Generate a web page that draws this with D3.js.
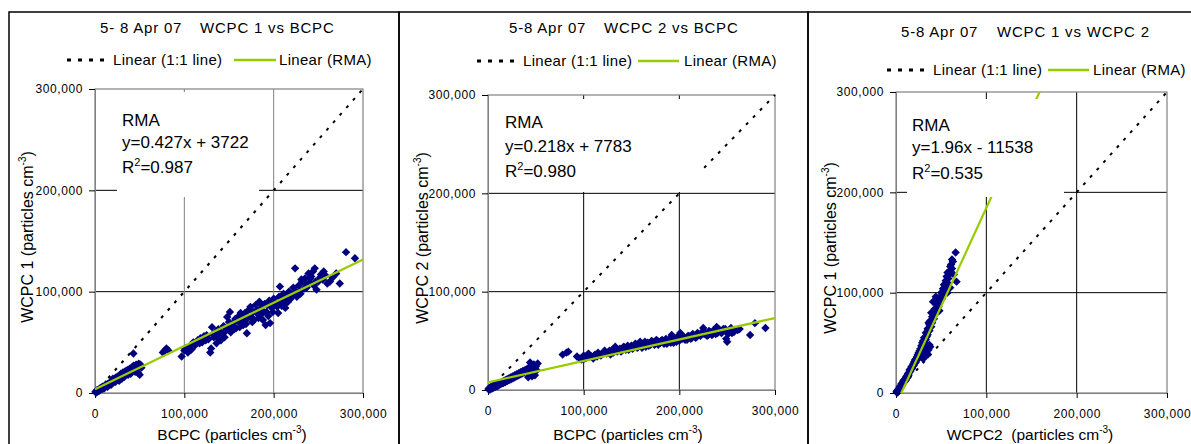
<!DOCTYPE html>
<meta charset="utf-8">
<script src="https://cdn.jsdelivr.net/npm/d3@7"></script>
<style>
  body { margin: 0; background: #fff; }
  svg { display: block; font-family: Arial, "Liberation Sans", sans-serif; }
</style>
<body>
<script>
// all values in thousands of particles cm-3
var ticks = [0, 100, 200, 300];

var wcpc1VsBcpc = [
  [0.5,1],[1,1.5],[1.5,0.5],[2,1],[2,2.5],[3,2],[3,3],[4,3],[4,2],[5,2.5],[5,4],[6,3.5],[6,5],[7,4.5],[8,4],[8,6],[9,5],
  [10,6],[10,4.5],[11,5.5],[12,7],[12,8.5],[13,7],[14,9],[14,6],[15,8],[16,10],[17,9],[18,11],[18,8],[19,10],[20,12],
  [20,14],[21,11],[22,13],[23,15],[23,11],[24,13],[25,16],[26,14],[27,17],[27,12],[28,15],[29,19],[30,17],[30,14],
  [31,20],[32,18],[33,21],[33,16],[34,19],[35,22],[36,20],[37,23],[37,18],[38,21],[39,24],[40,22],[40,19],[41,25],
  [42,23],[43,27],[43,39],[44,24],[45,26],[45,21],[46,28],[47,25],[48,27],[48,20],[49,29],[50,26],[50,18],[51,28],[52,25],
  [76,40],[78,42],[80,44],[82,42],[97,36],[100,42],[101,44],[104,40],[106,46],[108,43],[110,50],[112,47],[115,52],
  [117,49],[118,54],[120,50],[122,56],[124,52],[125,57],[127,53],[129,40],[130,44],[131,65],[132,58],[133,55],[135,60],
  [136,49],[137,55],[138,63],[140,58],[141,52],[142,59],[144,66],[145,55],[146,61],[147,62],[148,75],[149,64],[150,70],
  [151,80],[152,60],[153,67],[155,69],[156,63],[157,73],[158,64],[160,75],[161,70],[162,65],[163,79],[165,72],[166,67],
  [167,77],[168,79],[169,68],[170,59],[171,74],[172,82],[174,85],[175,75],[176,70],[177,80],[178,72],[180,87],[181,82],
  [182,78],[183,74],[184,90],[185,83],[186,78],[187,86],[188,72],[189,80],[190,88],[191,67],[192,80],[193,87],[194,76],
  [195,91],[196,69],[197,86],[198,84],[199,80],[200,93],[201,89],[202,88],[204,85],[205,79],[206,95],[207,105],[208,90],
  [209,86],[210,92],[211,98],[212,87],[213,84],[214,96],[215,94],[216,90],[217,100],[218,99],[219,93],[220,96],[222,104],
  [223,98],[224,123],[225,100],[226,95],[228,106],[229,101],[230,98],[231,112],[232,110],[234,103],[235,113],[236,108],
  [237,104],[239,118],[240,109],[241,113],[242,115],[244,120],[245,106],[246,123],[247,110],[248,102],[250,110],
  [252,114],[253,117],[255,112],[256,120],[258,116],[260,108],[263,110],[266,114],[270,118],[274,108],[281,139],[291,133]
];

var wcpc2VsBcpc = [
  [0.5,1],[1,0.5],[1.5,2],[2,2],[2,0.5],[3,1.5],[3,3],[4,3],[4,1.5],[5,2],[5,4],[6,4],[6,2.5],[7,3],[7,5],[8,5],[8,3.5],
  [9,4],[9,6],[10,6],[10,4],[11,5],[12,7],[12,5.5],[13,6],[14,8],[14,6.5],[15,7],[16,9],[16,7],[17,8],[18,10],[18,8],
  [19,9],[20,11],[20,9],[21,10],[22,12],[22,10],[23,11],[24,13],[24,11],[25,12],[26,14],[26,12],[27,13],[28,15],[28,13],
  [29,14],[30,16],[30,14],[31,15],[32,17],[32,15],[33,16],[34,18],[34,16],[35,17],[36,19],[36,17],[37,18],[38,20],
  [38,18],[39,19],[40,21],[40,19],[41,20],[42,22],[42,13],[43,23],[44,28],[44,20],[45,21],[46,24],[46,14],[47,22],
  [48,26],[49,15],[50,24],[51,20],[52,27],
  [78,36],[82,38],[84,39],[93,34],[96,32],[98,31],[100,35],[101,32],[103,33],[105,37],[106,34],[108,34],[110,32],
  [111,35],[112,36],[114,34],[115,38],[117,36],[118,35],[120,37],[121,39],[122,40],[124,37],[125,38],[127,40],[128,36],
  [130,41],[131,38],[133,44],[134,40],[135,39],[137,41],[138,42],[139,39],[140,40],[141,43],[142,44],[144,41],[145,43],
  [146,45],[147,41],[149,44],[150,45],[151,42],[152,43],[154,47],[155,46],[156,43],[157,44],[158,47],[159,49],[160,45],
  [161,43],[162,47],[164,49],[165,44],[166,46],[167,48],[168,45],[170,46],[171,50],[172,49],[174,46],[175,47],[176,51],
  [177,50],[178,46],[180,48],[181,50],[182,51],[184,47],[185,49],[186,52],[187,47],[189,50],[190,52],[191,48],[192,56],
  [193,50],[194,48],[195,53],[196,51],[197,49],[198,53],[199,55],[200,50],[201,58],[202,54],[203,52],[205,54],[206,51],
  [208,51],[209,55],[210,55],[212,52],[213,53],[214,57],[215,56],[217,53],[218,54],[219,58],[220,57],[222,55],[224,59],
  [225,63],[226,57],[227,58],[229,55],[230,56],[231,60],[232,59],[234,56],[235,57],[236,61],[237,60],[238,57],[239,64],
  [240,58],[241,62],[242,61],[244,58],[245,59],[246,62],[248,62],[249,52],[250,49],[251,57],[252,60],[254,63],[255,58],
  [257,59],[258,61],[261,61],[263,62],[274,56],[279,68],[290,63]
];

var wcpc1VsWcpc2 = [
  [0.5,1],[1,2],[1.5,0.5],[2,3],[2,1],[3,4],[3,2],[4,6],[4,4],[5,7],[5,5],[6,9],[6,7],[7,10],[7,8],[8,12],[8,10],
  [9,13],[9,11],[10,14],[10,12],[11,16],[11,13],[12,17],[12,15],[13,19],[13,16],[14,20],[14,18],[15,21],[15,23],
  [16,22],[16,24],[17,24],[17,26],[18,25],[18,27],[19,27],[19,29],[20,28],[20,31],[21,30],[21,33],[22,31],[22,34],
  [23,33],[23,36],[24,34],[24,38],[25,36],[25,40],[26,37],[26,42],[27,39],[27,44],[28,41],[28,47],[29,43],[29,50],
  [30,45],[30,52],[31,47],[31,55],[32,50],[33,53],[34,56],
  [30,34],[32,37],[34,40],[36,43],[38,46],[35,38],[33,38],[37,48],
  [35,58],[33,60],[37,62],[35,64],[39,66],[37,68],[40,70],[38,72],[42,74],[40,76],[43,78],[41,80],[45,82],[43,84],
  [47,86],[45,88],[48,90],[46,92],[51,94],[49,96],[52,98],[50,100],[54,102],[52,104],[55,106],[53,108],[57,110],
  [55,112],[58,114],[56,116],[59,118],[57,120],[60,122],[62,124],[60,126],[61,128],[63,131],[62,133],[66,140],
  [41,91],[44,96],[57,100],[60,105],[64,118],[67,111],[48,82],[36,70],[39,80]
];

var rmaSlope = [0.427, 0.218, 1.96];
var rmaIntercept = [3.722, 7.783, -11.538];
var rmaLabels = ["y=0.427x + 3722", "y=0.218x + 7783", "y=1.96x - 11538"];
var r2Labels = ["=0.987", "=0.980", "=0.535"];
var dateLabels = ["5- 8 Apr 07", "5-8 Apr 07", "5-8 Apr 07"];
var titleLabels = ["WCPC 1 vs BCPC", "WCPC 2 vs BCPC", "WCPC 1 vs WCPC 2"];
var xTitles = ["BCPC (particles cm", "BCPC (particles cm", "WCPC2\u00a0 (particles cm"];
var yTitles = ["WCPC 1 (particles cm", "WCPC 2 (particles cm", "WCPC 1 (particles cm"];
var legendLabels = ["Linear (1:1 line)", "Linear (RMA)"];

// layout of the three panels (pixels)
var layout = [
  {frame: [9, 399], plot: [95, 363, 393, 89], vgrid: "#808080", title: [100, 200, 33], legend: [60, 67, 108, 113, 234, 276, 279],
   box: [117, 92, 142, 105], text: [122, 126, 148, 173], xTitle: [232, 440], yTitle: [33, 237]},
  {frame: [399, 808], plot: [488, 775, 390, 95], vgrid: "#000", title: [509, 604, 33], legend: [61, 477, 518, 523, 638, 679, 684],
   box: [494, 99, 209, 93], text: [505, 128, 152, 177], xTitle: [628, 440], yTitle: [428, 238]},
  {frame: [808, 1200], plot: [896, 1167, 393, 92], vgrid: "#000", title: [901, 997, 37], legend: [70, 887, 928, 933, 1048, 1089, 1093],
   box: [907, 99, 157, 98], text: [912, 131, 153, 179], xTitle: [1030, 440], yTitle: [836, 248]}
];
var datasets = [wcpc1VsBcpc, wcpc2VsBcpc, wcpc1VsWcpc2];

var svg = d3.select("body").append("svg")
    .attr("width", 1191)
    .attr("height", 444);

var fmt = function(d) { return d3.format(",")(d * 1000); };
var green = "#99cc00";
var navy = "#000080";

layout.forEach(function(L, i) {
  var g = svg.append("g");
  var x = d3.scaleLinear().domain([0, 300]).range([L.plot[0], L.plot[1]]);
  var y = d3.scaleLinear().domain([0, 300]).range([L.plot[2], L.plot[3]]);

  // panel frame
  g.append("path")
    .attr("d", "M" + L.frame[0] + ",460V12H" + L.frame[1] + "V460")
    .attr("fill", "none").attr("stroke", "#000").attr("stroke-width", 1.5);

  // title
  g.append("text").attr("x", L.title[0]).attr("y", L.title[2]).attr("font-size", 15).attr("letter-spacing", 0.8).text(dateLabels[i]);
  g.append("text").attr("x", L.title[1]).attr("y", L.title[2]).attr("font-size", 15).attr("letter-spacing", 0.8).text(titleLabels[i]);

  // legend
  var ly = L.legend[0];
  g.append("line").attr("x1", L.legend[1]).attr("x2", L.legend[2]).attr("y1", ly).attr("y2", ly)
    .attr("stroke", "#000").attr("stroke-width", 3).attr("stroke-dasharray", "4,7");
  g.append("text").attr("x", L.legend[3]).attr("y", ly + 5).attr("font-size", 15).attr("letter-spacing", 0.3).text(legendLabels[0]);
  g.append("line").attr("x1", L.legend[4]).attr("x2", L.legend[5]).attr("y1", ly).attr("y2", ly)
    .attr("stroke", green).attr("stroke-width", 2.5);
  g.append("text").attr("x", L.legend[6]).attr("y", ly + 5).attr("font-size", 15).attr("letter-spacing", 0.3).text(legendLabels[1]);

  // gridlines
  g.selectAll(".hg").data(ticks.slice(1, 3)).enter().append("line")
    .attr("x1", L.plot[0]).attr("x2", L.plot[1]).attr("y1", d => y(d)).attr("y2", d => y(d))
    .attr("stroke", "#000").attr("stroke-width", 1);
  g.selectAll(".vg").data(ticks.slice(1, 3)).enter().append("line")
    .attr("y1", L.plot[2]).attr("y2", L.plot[3]).attr("x1", d => x(d)).attr("x2", d => x(d))
    .attr("stroke", L.vgrid).attr("stroke-width", 1);

  // plot border
  g.append("rect").attr("x", L.plot[0]).attr("y", L.plot[3])
    .attr("width", L.plot[1] - L.plot[0]).attr("height", L.plot[2] - L.plot[3])
    .attr("fill", "none").attr("stroke", "#808080").attr("stroke-width", 1.2);

  // axes
  var ax = g.append("g").attr("transform", "translate(0," + L.plot[2] + ")")
    .call(d3.axisBottom(x).tickValues(ticks).tickFormat(fmt).tickSize(5).tickPadding(11));
  var ay = g.append("g").attr("transform", "translate(" + L.plot[0] + ",0)")
    .call(d3.axisLeft(y).tickValues(ticks).tickFormat(fmt).tickSize(6).tickPadding(6));
  [ax, ay].forEach(function(a) {
    a.select(".domain").attr("stroke", "#808080");
    a.selectAll(".tick line").attr("stroke", "#000");
    a.selectAll("text").attr("font-size", 12).attr("letter-spacing", 0.6)
      .attr("font-family", "Arial, 'Liberation Sans', sans-serif").attr("fill", "#000");
  });

  // clip
  var cid = "clip" + i;
  svg.append("clipPath").attr("id", cid).append("rect")
    .attr("x", L.plot[0]).attr("y", L.plot[3])
    .attr("width", L.plot[1] - L.plot[0]).attr("height", L.plot[2] - L.plot[3]);

  var line = d3.line().x(d => x(d[0])).y(d => y(d[1]));

  // 1:1 line
  g.append("path").datum([[0, 0], [300, 300]]).attr("d", line)
    .attr("stroke", "#000").attr("stroke-width", 2).attr("stroke-dasharray", "3,7").attr("fill", "none");

  // points
  g.append("g").selectAll("path").data(datasets[i]).enter().append("path")
    .attr("d", "M0,-4.2L4.2,0L0,4.2L-4.2,0Z")
    .attr("transform", d => "translate(" + x(d[0]) + "," + y(d[1]) + ")")
    .attr("fill", navy);

  // RMA line
  g.append("path").datum([[0, rmaIntercept[i]], [300, rmaSlope[i] * 300 + rmaIntercept[i]]])
    .attr("d", line).attr("clip-path", "url(#" + cid + ")")
    .attr("stroke", green).attr("stroke-width", 2.2).attr("fill", "none");

  // text box
  g.append("rect").attr("x", L.box[0]).attr("y", L.box[1]).attr("width", L.box[2]).attr("height", L.box[3]).attr("fill", "#fff");
  g.append("text").attr("x", L.text[0]).attr("y", L.text[1]).attr("font-size", 17).text("RMA");
  g.append("text").attr("x", L.text[0]).attr("y", L.text[2]).attr("font-size", 17).text(rmaLabels[i]);
  var r2 = g.append("text").attr("x", L.text[0]).attr("y", L.text[3]).attr("font-size", 17);
  r2.append("tspan").text("R");
  r2.append("tspan").attr("font-size", 11).attr("dy", -7).text("2");
  r2.append("tspan").attr("dy", 7).text(r2Labels[i]);

  // axis titles
  var xt = g.append("text").attr("x", L.xTitle[0]).attr("y", L.xTitle[1]).attr("text-anchor", "middle")
    .attr("font-size", 15.5);
  xt.append("tspan").text(xTitles[i]);
  xt.append("tspan").attr("font-size", 10).attr("dy", -7).text("-3");
  xt.append("tspan").attr("dy", 7).text(")");

  var yt = g.append("text").attr("transform", "translate(" + L.yTitle[0] + "," + L.yTitle[1] + ") rotate(-90)")
    .attr("text-anchor", "middle").attr("font-size", 16);
  yt.append("tspan").text(yTitles[i]);
  yt.append("tspan").attr("font-size", 10).attr("dy", -7).text("-3");
  yt.append("tspan").attr("dy", 7).text(")");
});
</script>
</body>
